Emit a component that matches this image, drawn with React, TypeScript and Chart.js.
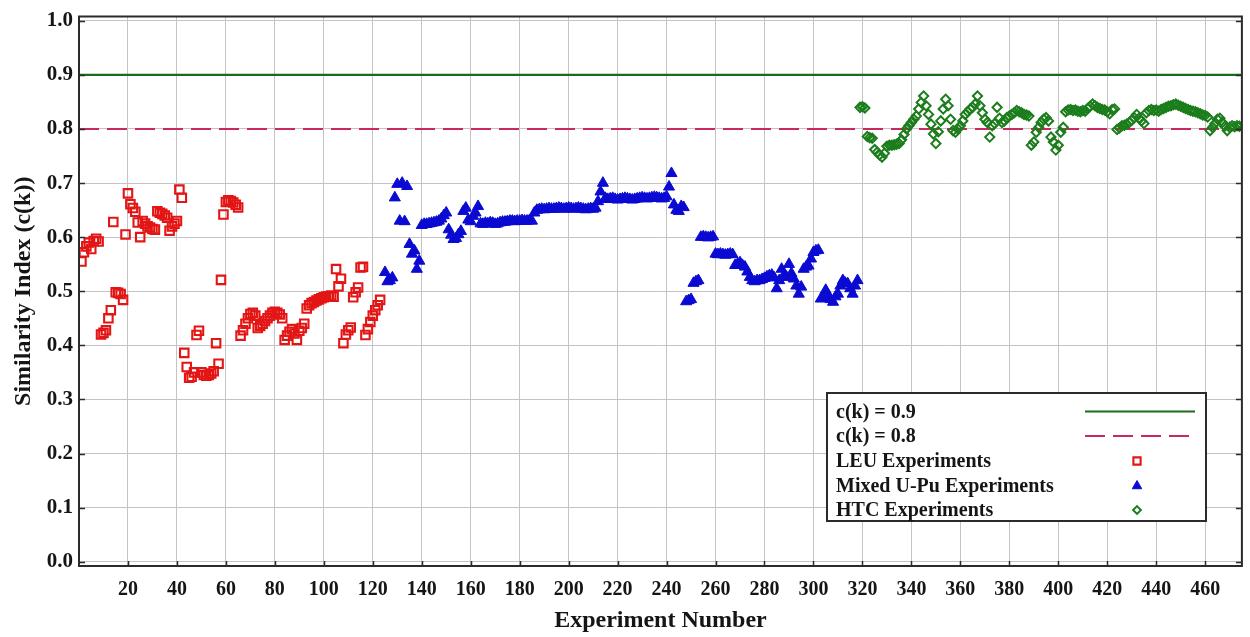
import React, { useEffect, useRef } from 'react';
import { Chart, registerables } from 'chart.js';

Chart.register(...registerables);

// ---------- data ----------
const xTickValues = [20, 40, 60, 80, 100, 120, 140, 160, 180, 200, 220, 240, 260, 280, 300, 320, 340, 360, 380, 400, 420, 440, 460];
const yTickValues = [0, 0.1, 0.2, 0.3, 0.4, 0.5, 0.6, 0.7, 0.8, 0.9, 1.0];

const thresholdValues = [0.9, 0.8];
const thresholdLabels = ['c(k) = 0.9', 'c(k) = 0.8'];

const seriesLabels = ['LEU Experiments', 'Mixed U-Pu Experiments', 'HTC Experiments'];

// LEU experiments, first experiment number then c(k) values in order
const leuStart = 1;
const leuValues = [
  0.555, 0.572, 0.583, 0.59, 0.578, 0.593, 0.597, 0.592, 0.42, 0.423,
  0.428, 0.45, 0.465, 0.628, 0.498, 0.497, 0.495, 0.484, 0.605, 0.681,
  0.661, 0.654, 0.647, 0.627, 0.6, 0.63, 0.625, 0.62, 0.618, 0.615,
  0.614, 0.648, 0.645, 0.643, 0.64, 0.636, 0.612, 0.62, 0.625, 0.63,
  0.688, 0.673, 0.386, 0.36, 0.34, 0.342, 0.35, 0.419, 0.427, 0.35,
  0.345, 0.344, 0.345, 0.348, 0.352, 0.404, 0.366, 0.521, 0.642, 0.665,
  0.668, 0.667, 0.664, 0.66, 0.655, 0.418, 0.428, 0.44, 0.45, 0.458,
  0.46, 0.455, 0.432, 0.436, 0.44, 0.445, 0.45, 0.455, 0.46, 0.462,
  0.46, 0.457, 0.45, 0.41, 0.418, 0.425, 0.43, 0.422, 0.41, 0.427,
  0.432, 0.44, 0.468, 0.474, 0.478, 0.48, 0.483, 0.485, 0.487, 0.489,
  0.49, 0.49, 0.492, 0.49, 0.541, 0.509, 0.523, 0.404, 0.42, 0.428,
  0.433, 0.489, 0.498, 0.507, 0.544, 0.545, 0.419, 0.43, 0.443, 0.455,
  0.465, 0.474, 0.484,
];

// Mixed U-Pu experiments
const mixedStart = 125;
const mixedValues = [
  0.535, 0.518, 0.52, 0.525, 0.673, 0.698, 0.63, 0.7, 0.629, 0.694,
  0.587, 0.569, 0.575, 0.541, 0.556, 0.622, 0.624, 0.624, 0.625, 0.626,
  0.627, 0.628, 0.63, 0.634, 0.64, 0.645, 0.614, 0.604, 0.596, 0.598,
  0.605, 0.611, 0.648, 0.654, 0.632, 0.629, 0.639, 0.645, 0.657, 0.625,
  0.624, 0.626, 0.625, 0.627, 0.626, 0.624, 0.625, 0.627, 0.628, 0.628,
  0.629, 0.63, 0.63, 0.629, 0.63, 0.63, 0.631, 0.63, 0.63, 0.631,
  0.63, 0.645, 0.65, 0.651, 0.652, 0.651, 0.652, 0.653, 0.652, 0.652,
  0.653, 0.654, 0.653, 0.652, 0.653, 0.654, 0.653, 0.652, 0.653, 0.654,
  0.653, 0.652, 0.651, 0.652, 0.653, 0.652, 0.654, 0.666, 0.684, 0.7,
  0.672, 0.67, 0.671, 0.672, 0.67, 0.669, 0.67, 0.671, 0.672, 0.671,
  0.67, 0.669, 0.67, 0.671, 0.672, 0.673, 0.672, 0.671, 0.672, 0.673,
  0.674, 0.673, 0.672, 0.671, 0.672, 0.675, 0.693, 0.718, 0.66, 0.65,
  0.648, 0.657, 0.655, 0.481, 0.483, 0.485, 0.515, 0.518, 0.52, 0.6,
  0.601, 0.6, 0.599, 0.6, 0.601, 0.569, 0.568, 0.569, 0.568, 0.567,
  0.568, 0.569, 0.568, 0.548, 0.55, 0.553, 0.548, 0.545, 0.536, 0.526,
  0.52, 0.518, 0.52, 0.52, 0.522, 0.524, 0.527, 0.529, 0.53, 0.525,
  0.505, 0.52, 0.541, 0.53, 0.526, 0.55, 0.533, 0.523, 0.51, 0.495,
  0.508, 0.541, 0.545, 0.547, 0.56, 0.572, 0.575, 0.576, 0.486, 0.49,
  0.502, 0.489, 0.485, 0.48, 0.49, 0.495, 0.51, 0.52, 0.515, 0.514,
  0.505, 0.495, 0.51, 0.52,
];

// HTC experiments
const htcStart = 319;
const htcValues = [
  0.84, 0.841, 0.839, 0.786, 0.784, 0.783, 0.762, 0.757, 0.752, 0.748,
  0.755, 0.768, 0.77, 0.77, 0.771, 0.772, 0.773, 0.78, 0.79, 0.8,
  0.806, 0.812, 0.818, 0.824, 0.837, 0.849, 0.861, 0.843, 0.827, 0.809,
  0.791, 0.773, 0.795, 0.815, 0.837, 0.855, 0.843, 0.818, 0.797, 0.794,
  0.8, 0.806, 0.815, 0.827, 0.832, 0.837, 0.84, 0.846, 0.861, 0.843,
  0.83, 0.818, 0.812, 0.785, 0.806, 0.81, 0.84, 0.82, 0.812, 0.815,
  0.821, 0.824, 0.827, 0.83, 0.834, 0.832, 0.83, 0.827, 0.826, 0.824,
  0.77, 0.776, 0.794, 0.803, 0.812, 0.818, 0.821, 0.815, 0.785, 0.776,
  0.761, 0.77, 0.794, 0.803, 0.832, 0.835, 0.836, 0.834, 0.835, 0.833,
  0.832, 0.834, 0.833, 0.838, 0.842, 0.846, 0.843, 0.84, 0.838, 0.836,
  0.835, 0.832, 0.828, 0.836, 0.837, 0.799, 0.802, 0.806, 0.807, 0.809,
  0.812, 0.816, 0.821, 0.827, 0.82, 0.815, 0.81, 0.83, 0.834, 0.836,
  0.834, 0.835, 0.833, 0.836, 0.838, 0.84, 0.842, 0.843, 0.845, 0.846,
  0.844, 0.842, 0.84, 0.838, 0.836, 0.834, 0.833, 0.832, 0.83, 0.828,
  0.826, 0.825, 0.822, 0.797, 0.803, 0.81, 0.818, 0.82, 0.812, 0.805,
  0.797, 0.803, 0.806, 0.804, 0.806, 0.805,
];

const xMin = 0;
const xMax = 475;
const yMin = -0.008;
const yMax = 1.008;

// ---------- styles ----------
const FONT = "'Liberation Serif', 'Times New Roman', serif";
const TEXT = '#151515';
const GRID = '#c4c4c4';
const FRAME = '#2b2b2b';
const GREEN_LINE = '#1c6b1c';
const RED_DASH = '#c92a5c';
const LEU_RED = '#e31515';
const MIX_BLUE = '#0a0ad2';
const HTC_GREEN = '#1b7d1b';

const toPoints = (start: number, vals: number[]) => vals.map((v, i) => ({ x: start + i, y: v }));

function drawMarker(ctx: CanvasRenderingContext2D, style: string, x: number, y: number, r: number) {
  ctx.beginPath();
  if (style === 'rect') {
    const s = Math.SQRT1_2 * r;
    ctx.rect(x - s, y - s, 2 * s, 2 * s);
  } else if (style === 'triangle') {
    let a = 0;
    ctx.moveTo(x + Math.sin(a) * r, y - Math.cos(a) * r);
    a += (2 * Math.PI) / 3;
    ctx.lineTo(x + Math.sin(a) * r, y - Math.cos(a) * r);
    a += (2 * Math.PI) / 3;
    ctx.lineTo(x + Math.sin(a) * r, y - Math.cos(a) * r);
    ctx.closePath();
  } else {
    ctx.moveTo(x, y - r);
    ctx.lineTo(x + r, y);
    ctx.lineTo(x, y + r);
    ctx.lineTo(x - r, y);
    ctx.closePath();
  }
}

const framePlugin = {
  id: 'frame',
  afterDatasetsDraw(chart: any) {
    const { ctx, chartArea } = chart;
    const { left, right, top, bottom } = chartArea;
    const xs = chart.scales.x;
    const ys = chart.scales.y;
    ctx.save();
    ctx.strokeStyle = FRAME;
    ctx.lineWidth = 1.5;
    // inward tick marks
    ctx.beginPath();
    yTickValues.forEach((v) => {
      const p = Math.round(ys.getPixelForValue(v)) + 0.5;
      ctx.moveTo(left, p);
      ctx.lineTo(left + 6, p);
      ctx.moveTo(right, p);
      ctx.lineTo(right - 6, p);
    });
    xTickValues.forEach((v) => {
      const p = Math.round(xs.getPixelForValue(v)) + 0.5;
      ctx.moveTo(p, bottom);
      ctx.lineTo(p, bottom - 5);
    });
    ctx.stroke();
    ctx.lineWidth = 2;
    ctx.strokeRect(left, top, right - left, bottom - top);
    ctx.restore();
  },
};

const legendPlugin = {
  id: 'boxLegend',
  afterDraw(chart: any) {
    const { ctx } = chart;
    const bx = 827;
    const by = 393;
    const bw = 379;
    const bh = 128;
    ctx.save();
    ctx.fillStyle = '#ffffff';
    ctx.fillRect(bx, by, bw, bh);
    ctx.strokeStyle = FRAME;
    ctx.lineWidth = 2;
    ctx.strokeRect(bx, by, bw, bh);
    const rowY = [411.5, 436, 461, 486, 510];
    chart.data.datasets.forEach((ds: any, i: number) => {
      const y = rowY[i];
      ctx.fillStyle = TEXT;
      ctx.font = `bold 20px ${FONT}`;
      ctx.textAlign = 'left';
      ctx.textBaseline = 'middle';
      ctx.fillText(ds.label, bx + 9, y + 1);
      if (ds.showLine) {
        ctx.beginPath();
        ctx.strokeStyle = ds.borderColor;
        ctx.lineWidth = ds.borderWidth;
        ctx.setLineDash(ds.borderDash || []);
        ctx.moveTo(1085, y);
        ctx.lineTo(1195, y);
        ctx.stroke();
        ctx.setLineDash([]);
      } else {
        drawMarker(ctx, ds.pointStyle, 1137, y, ds.pointRadius * 0.85);
        if (ds.pointBackgroundColor && ds.pointBackgroundColor !== 'transparent') {
          ctx.fillStyle = ds.pointBackgroundColor;
          ctx.fill();
        }
        ctx.strokeStyle = ds.pointBorderColor;
        ctx.lineWidth = ds.pointBorderWidth;
        ctx.stroke();
      }
    });
    ctx.restore();
  },
};

export default function App() {
  const canvasRef = useRef<HTMLCanvasElement | null>(null);

  useEffect(() => {
    if (!canvasRef.current) return;
    const lineDs = (label: string, value: number, color: string, dash: number[]) => ({
      label,
      data: [
        { x: xMin, y: value },
        { x: xMax, y: value },
      ],
      showLine: true,
      borderColor: color,
      borderWidth: 2.2,
      borderDash: dash,
      pointRadius: 0,
      pointHoverRadius: 0,
      order: 5,
    });
    const chart = new Chart(canvasRef.current, {
      type: 'scatter',
      data: {
        datasets: [
          lineDs(thresholdLabels[0], thresholdValues[0], GREEN_LINE, []),
          lineDs(thresholdLabels[1], thresholdValues[1], RED_DASH, [20, 8]),
          {
            label: seriesLabels[0],
            data: toPoints(leuStart, leuValues),
            pointStyle: 'rect',
            pointRadius: 6,
            pointBorderWidth: 2.1,
            pointBorderColor: LEU_RED,
            pointBackgroundColor: 'transparent',
            order: 1,
          },
          {
            label: seriesLabels[1],
            data: toPoints(mixedStart, mixedValues),
            pointStyle: 'triangle',
            pointRadius: 6.4,
            pointBorderWidth: 1,
            pointBorderColor: MIX_BLUE,
            pointBackgroundColor: MIX_BLUE,
            order: 1,
          },
          {
            label: seriesLabels[2],
            data: toPoints(htcStart, htcValues),
            pointStyle: 'rectRot',
            pointRadius: 4.6,
            pointBorderWidth: 2,
            pointBorderColor: HTC_GREEN,
            pointBackgroundColor: 'transparent',
            order: 1,
          },
        ] as any,
      },
      options: {
        responsive: false,
        animation: false,
        devicePixelRatio: 1,
        layout: { padding: { top: 11, right: 2, left: 0, bottom: 0 } },
        plugins: {
          legend: { display: false },
          tooltip: { enabled: false },
        },
        scales: {
          x: {
            type: 'linear',
            min: xMin,
            max: xMax,
            afterBuildTicks: (s: any) => {
              s.ticks = xTickValues.map((v) => ({ value: v }));
            },
            afterFit: (s: any) => {
              s.height = 71;
            },
            ticks: {
              autoSkip: false,
              maxRotation: 0,
              padding: 14,
              color: TEXT,
              font: { family: FONT, size: 20, weight: 'bold', lineHeight: 1 },
              callback: (v: any) => String(v),
            },
            grid: { color: GRID, lineWidth: 1, drawTicks: false },
            border: { display: false },
            title: {
              display: true,
              text: 'Experiment Number',
              color: TEXT,
              font: { family: FONT, size: 24, weight: 'bold', lineHeight: 1.2 },
              padding: { top: 0, bottom: 2 },
            },
          },
          y: {
            type: 'linear',
            min: yMin,
            max: yMax,
            afterBuildTicks: (s: any) => {
              s.ticks = yTickValues.map((v) => ({ value: v }));
            },
            afterFit: (s: any) => {
              s.width = 79;
            },
            ticks: {
              padding: 6,
              color: TEXT,
              font: { family: FONT, size: 21, weight: 'bold', lineHeight: 1 },
              callback: (v: any) => Number(v).toFixed(1),
            },
            grid: { color: GRID, lineWidth: 1, drawTicks: false },
            border: { display: false },
            title: {
              display: true,
              text: 'Similarity Index (c(k))',
              color: TEXT,
              font: { family: FONT, size: 24, weight: 'bold', lineHeight: 1.2 },
              padding: { top: 9, bottom: 0 },
            },
          },
        },
      } as any,
      plugins: [framePlugin, legendPlugin],
    });
    return () => chart.destroy();
  }, []);

  return (
    <div style={{ position: 'absolute', left: 0, top: 0, width: 1250, height: 637, background: '#ffffff' }}>
      <canvas ref={canvasRef} width={1250} height={637} style={{ display: 'block' }} />
    </div>
  );
}
